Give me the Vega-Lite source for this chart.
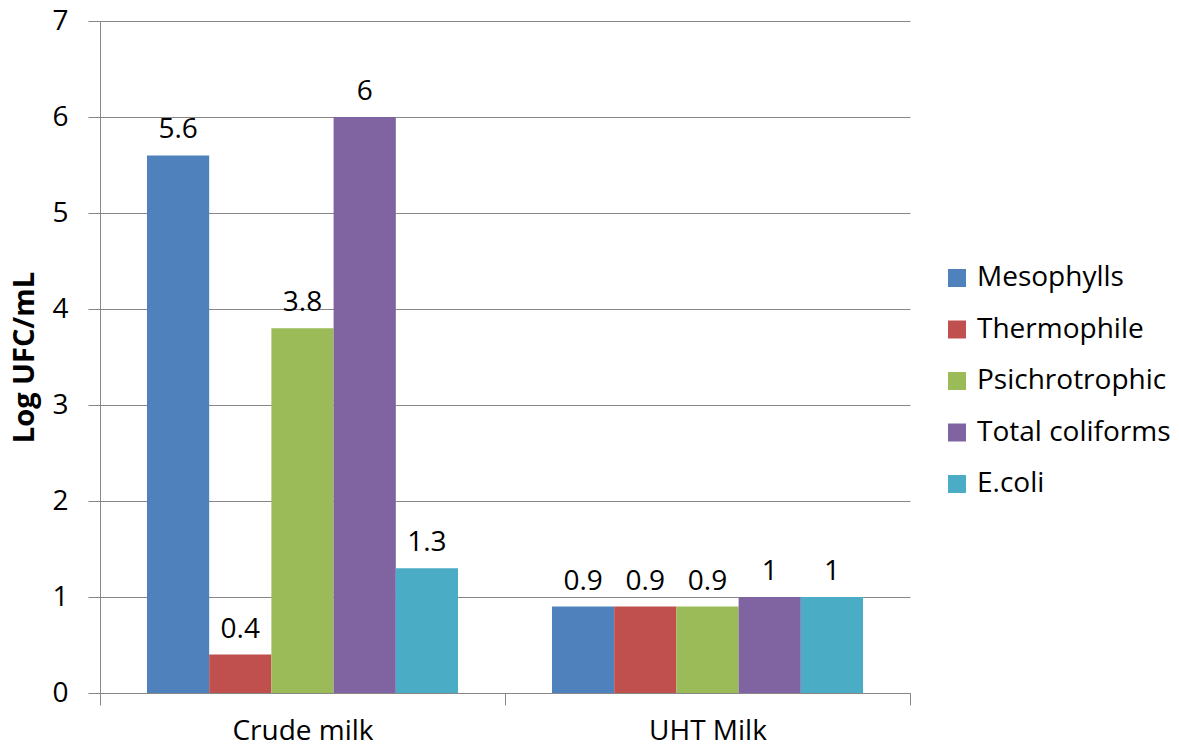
{
  "$schema": "https://vega.github.io/schema/vega-lite/v6.json",
  "autosize": {"type": "none"},
  "padding": {"left": 100, "top": 21, "right": 269, "bottom": 55},
  "width": 810,
  "height": 672,
  "background": "white",
  "config": {
    "font": "Open Sans",
    "view": {"stroke": null},
    "axis": {"labelFont": "Open Sans", "titleFont": "Open Sans", "labelColor": "black", "titleColor": "black"}
  },
  "data": {
    "values": [
      {"sample": "Crude milk", "group": "Mesophylls", "value": 5.6},
      {"sample": "Crude milk", "group": "Thermophile", "value": 0.4},
      {"sample": "Crude milk", "group": "Psichrotrophic", "value": 3.8},
      {"sample": "Crude milk", "group": "Total coliforms", "value": 6},
      {"sample": "Crude milk", "group": "E.coli", "value": 1.3},
      {"sample": "UHT Milk", "group": "Mesophylls", "value": 0.9},
      {"sample": "UHT Milk", "group": "Thermophile", "value": 0.9},
      {"sample": "UHT Milk", "group": "Psichrotrophic", "value": 0.9},
      {"sample": "UHT Milk", "group": "Total coliforms", "value": 1},
      {"sample": "UHT Milk", "group": "E.coli", "value": 1}
    ]
  },
  "encoding": {
    "x": {
      "field": "sample", "type": "nominal", "sort": null,
      "scale": {"paddingInner": 0, "paddingOuter": 0},
      "axis": {
        "title": null, "labelAngle": 0, "labelFontSize": 28, "labelPadding": 12,
        "tickBand": "extent", "tickSize": 12, "tickColor": "#878787",
        "domainColor": "#878787", "grid": false
      }
    },
    "xOffset": {
      "field": "group", "type": "nominal", "sort": ["Mesophylls", "Thermophile", "Psichrotrophic", "Total coliforms", "E.coli"],
      "scale": {"paddingInner": 0, "paddingOuter": 0.755}
    },
    "y": {
      "field": "value", "type": "quantitative",
      "scale": {"domain": [0, 7], "nice": false},
      "axis": {
        "title": "Log UFC/mL", "titleFontSize": 29, "titleFontWeight": "bold", "titlePadding": 12,
        "values": [0, 1, 2, 3, 4, 5, 6, 7], "format": "d",
        "labelFontSize": 28, "labelPadding": 20, "tickSize": 12, "tickColor": "#878787",
        "domainColor": "#878787", "gridColor": "#878787", "grid": true
      }
    }
  },
  "layer": [
    {
      "mark": {"type": "bar"},
      "encoding": {
        "color": {
          "field": "group", "type": "nominal",
          "sort": ["Mesophylls", "Thermophile", "Psichrotrophic", "Total coliforms", "E.coli"],
          "scale": {
            "domain": ["Mesophylls", "Thermophile", "Psichrotrophic", "Total coliforms", "E.coli"],
            "range": ["#4F81BD", "#C0504D", "#9BBB59", "#8064A2", "#4BACC6"]
          },
          "legend": {
            "title": null, "orient": "none", "legendX": 843, "legendY": 243,
            "symbolType": "square", "symbolSize": 324, "symbolStrokeWidth": 0,
            "labelFontSize": 28, "labelFont": "Open Sans", "labelColor": "black",
            "labelOffset": 6, "rowPadding": 23.5, "labelLimit": 400
          }
        }
      }
    },
    {
      "mark": {"type": "text", "baseline": "alphabetic", "dy": -17, "fontSize": 28, "font": "Open Sans", "color": "black"},
      "encoding": {"text": {"field": "value", "type": "quantitative"}}
    }
  ]
}
